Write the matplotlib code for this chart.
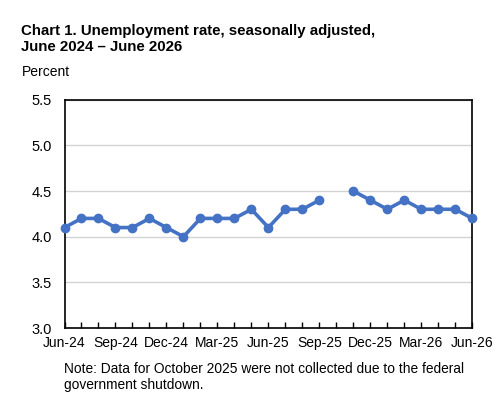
import numpy as np
import matplotlib
matplotlib.use('Agg')
import matplotlib.pyplot as plt

plt.rcParams['font.family'] = ['Liberation Sans', 'DejaVu Sans']

# Месяцы и значения безработицы (октябрь 2025 - нет данных)
months = ['Jun-24', 'Jul-24', 'Aug-24', 'Sep-24', 'Oct-24', 'Nov-24', 'Dec-24',
          'Jan-25', 'Feb-25', 'Mar-25', 'Apr-25', 'May-25', 'Jun-25', 'Jul-25',
          'Aug-25', 'Sep-25', 'Oct-25', 'Nov-25', 'Dec-25', 'Jan-26', 'Feb-26',
          'Mar-26', 'Apr-26', 'May-26', 'Jun-26']
rate = [4.1, 4.2, 4.2, 4.1, 4.1, 4.2, 4.1,
        4.0, 4.2, 4.2, 4.2, 4.3, 4.1, 4.3,
        4.3, 4.4, np.nan, 4.5, 4.4, 4.3, 4.4,
        4.3, 4.3, 4.3, 4.2]
y_ticks = [3.0, 3.5, 4.0, 4.5, 5.0, 5.5]

fig = plt.figure(figsize=(5, 4.13), dpi=100)
ax = fig.add_axes([0.129, 0.2058, 0.8156, 0.5528])

x = np.arange(len(months))
ax.plot(x, rate, color='#4472C4', lw=2.6, marker='o', ms=6, zorder=3, clip_on=False)

ax.set_xlim(0, len(months) - 1)
ax.set_ylim(3.0, 5.5)
ax.set_yticks(y_ticks)
ax.set_yticklabels([f'{v:.1f}' for v in y_ticks], fontsize=10.5)
ax.set_xticks(x[::3])
ax.set_xticklabels(months[::3], fontsize=10)
ax.set_xticks(x, minor=True)
ax.tick_params(axis='y', length=0, pad=9)
ax.tick_params(axis='x', which='both', direction='in', length=4, width=1, pad=6)
ax.grid(axis='y', color='#d3d3d3', lw=1, zorder=0)
for s in ax.spines.values():
    s.set_color('black')
    s.set_linewidth(1.2)

fig.text(0.042, 0.905, 'Chart 1. Unemployment rate, seasonally adjusted,\nJune 2024 \u2013 June 2026',
         fontsize=10.8, fontweight='bold', va='center', linespacing=1.2)
fig.text(0.044, 0.826, 'Percent', fontsize=10, va='center')
fig.text(0.128, 0.087, 'Note: Data for October 2025 were not collected due to the federal\ngovernment shutdown.',
         fontsize=9.9, va='center', linespacing=1.2)

fig.savefig('out.png', dpi=100)
